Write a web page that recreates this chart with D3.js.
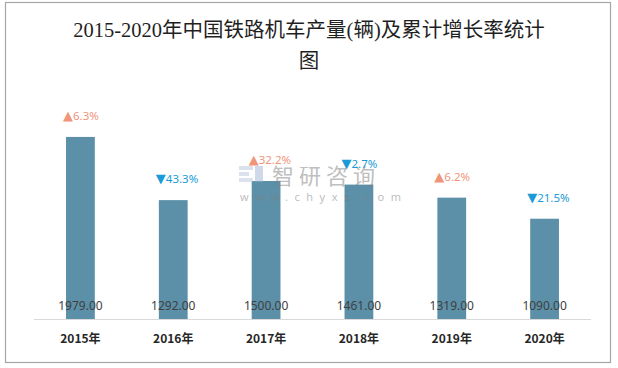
<!DOCTYPE html>
<html><head><meta charset="utf-8">
<script src="https://cdn.jsdelivr.net/npm/d3@7"></script>
<style>html,body{margin:0;padding:0;background:#fff;}svg{display:block;}</style>
</head><body>
<svg id="c" width="618" height="368"></svg>
<script>
const titleLines = ["2015-2020年中国铁路机车产量(辆)及累计增长率统计", "图"];
const years = ["2015年", "2016年", "2017年", "2018年", "2019年", "2020年"];
const production = [1979, 1292, 1500, 1461, 1319, 1090];
const growth = [6.3, -43.3, 32.2, -2.7, 6.2, -21.5];

const svg = d3.select("#c");
const upColor = "#f0957a", downColor = "#1a9bd7", barColor = "#5b90a8";

svg.append("rect").attr("x", 5.5).attr("y", 2.5).attr("width", 605).attr("height", 360)
  .attr("fill", "#fff").attr("stroke", "#a6a6a6").attr("stroke-width", 1.2);

const title = svg.append("text").attr("text-anchor", "middle")
  .attr("font-family", "'Liberation Serif','DejaVu Serif','Noto Sans CJK SC',serif")
  .attr("font-size", 20.5).attr("fill", "#1f1f1f");
titleLines.forEach((t, i) => {
  title.append("tspan").attr("x", 309).attr("y", 37 + i * 31).text(t);
});

const x = d3.scaleBand().domain(years).range([34, 591]).paddingInner(0.69).paddingOuter(0.345);
const y = d3.scaleLinear().domain([0, 2500]).range([319, 89]);

svg.append("g").selectAll("rect").data(production).join("rect")
  .attr("x", (d, i) => x(years[i])).attr("width", x.bandwidth())
  .attr("y", d => y(d)).attr("height", d => y(0) - y(d))
  .attr("fill", barColor);

// watermark (drawn faint over the bars, as in the reference)
const wm = svg.append("g").attr("opacity", 0.5);
wm.append("rect").attr("x", 239).attr("y", 166).attr("width", 14).attr("height", 4).attr("fill", "#b9c6dc");
wm.append("rect").attr("x", 239).attr("y", 172).attr("width", 10).attr("height", 4).attr("fill", "#b9c6dc");
wm.append("rect").attr("x", 239).attr("y", 178).attr("width", 14).attr("height", 4).attr("fill", "#b9c6dc");
wm.append("rect").attr("x", 255).attr("y", 166).attr("width", 8).attr("height", 16).attr("fill", "#9fb4d6");
wm.append("text").attr("x", 272).attr("y", 184).attr("font-family", "'Noto Sans CJK SC',sans-serif")
  .attr("font-size", 22).attr("letter-spacing", 5).attr("fill", "#808080").text("智研咨询");
wm.append("text").attr("x", 240).attr("y", 201).attr("font-family", "'Noto Sans',sans-serif")
  .attr("font-size", 11).attr("letter-spacing", 6.5).attr("fill", "#808080").text("www.chyxx.com");

svg.append("line").attr("x1", 34).attr("x2", 591).attr("y1", 319.5).attr("y2", 319.5)
  .attr("stroke", "#d9d9d9").attr("stroke-width", 1);

svg.append("g").selectAll("text").data(production).join("text")
  .attr("x", (d, i) => x(years[i]) + x.bandwidth() / 2).attr("y", y(0) - 9)
  .attr("text-anchor", "middle").attr("font-family", "'Noto Sans',sans-serif")
  .attr("font-size", 12).attr("fill", "#404040").text(d => d3.format(".2f")(d));

svg.append("g").selectAll("text").data(growth).join("text")
  .attr("x", (d, i) => x(years[i]) - 3).attr("y", (d, i) => y(production[i]) - 17)
  .attr("font-family", "'Noto Sans','DejaVu Sans',sans-serif").attr("font-size", 11.5)
  .attr("fill", d => d >= 0 ? upColor : downColor)
  .call(t => {
    t.append("tspan").attr("font-family", "'DejaVu Sans',sans-serif").attr("font-size", 13)
      .text(d => d >= 0 ? "▲" : "▼");
    t.append("tspan").text(d => Math.abs(d).toFixed(1) + "%");
  });

const xAxis = svg.append("g").attr("transform", "translate(0,319)")
  .call(d3.axisBottom(x).tickSize(0).tickPadding(15));
xAxis.select(".domain").remove();
xAxis.selectAll("text").attr("font-family", "'Noto Sans CJK SC',sans-serif")
  .attr("font-size", 12).attr("font-weight", "bold").attr("fill", "#262626");
</script>
</body></html>
